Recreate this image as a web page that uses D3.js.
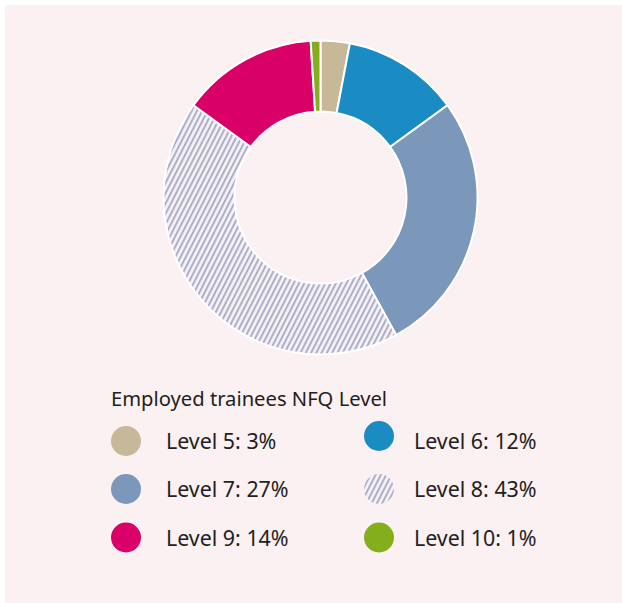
<!DOCTYPE html>
<html>
<head>
<meta charset="utf-8">
<script src="https://cdn.jsdelivr.net/npm/d3@7"></script>
<style>
  body { margin: 0; background: #ffffff; }
  text { font-family: "Noto Sans", sans-serif; fill: #231f20; }
</style>
</head>
<body>
<div id="graphic"></div>
<script>
// Donut - niveaux NFQ des stagiaires employés

// Données
let niveaux = ["Level 5", "Level 6", "Level 7", "Level 8", "Level 9", "Level 10"];
let pourcentages = [3, 12, 27, 43, 14, 1];
let couleurs = ["#c6b898", "#1a8bc3", "#7b97b9", "hatch", "#d90067", "#84ae1c"];
let titreLegende = "Employed trainees NFQ Level";

let largeur = 622, hauteur = 603;

let cadre = d3.select("#graphic")
    .append("svg")
    .attr("width", largeur)
    .attr("height", hauteur);

// Fond rose
cadre.append("rect")
    .attr("x", 5).attr("y", 5)
    .attr("width", largeur - 5).attr("height", hauteur - 5)
    .attr("fill", "#fbf0f2");

// Motif hachuré pour le niveau 8
let defs = cadre.append("defs");
let motif = defs.append("pattern")
    .attr("id", "hachures")
    .attr("patternUnits", "userSpaceOnUse")
    .attr("width", 4.7).attr("height", 10)
    .attr("patternTransform", "rotate(27)");
motif.append("rect")
    .attr("width", 4.7).attr("height", 10)
    .attr("fill", "#fbf0f2");
motif.append("rect")
    .attr("x", 0).attr("width", 2).attr("height", 10)
    .attr("fill", "#a6b1ce");

function remplissage(i){
  return couleurs[i] == "hatch" ? "url(#hachures)" : couleurs[i];
}

// Donut
let cx = 320.5, cy = 197.5;
let pie = d3.pie().sort(null).value(function(d){ return d; });
let arc = d3.arc().innerRadius(86).outerRadius(157);

let groupeDonut = cadre.append("g")
    .attr("transform", `translate(${cx},${cy})`);

groupeDonut.selectAll("path")
  .data(pie(pourcentages))
  .enter()
    .append("path")
    .attr("d", arc)
    .attr("fill", function(d, i){ return remplissage(i); })
    .attr("stroke", "#ffffff")
    .attr("stroke-width", 2);

// Légende
cadre.append("text")
    .attr("x", 111)
    .attr("y", 406)
    .attr("font-size", 20.2)
    .text(titreLegende);

let colX = [126, 379];
let texteX = [40, 35];
let rowY = [449, 497, 545.5];

let legende = cadre.selectAll(".legende")
  .data(niveaux)
  .enter()
    .append("g")
    .attr("class", "legende")
    .attr("transform", function(d, i){
      return `translate(${colX[i % 2]},${rowY[Math.floor(i / 2)]})`;
    });

legende.append("circle")
    .attr("cx", 0)
    .attr("cy", function(d, i){ return i == 1 ? -13 : -8; })
    .attr("r", 15)
    .attr("fill", function(d, i){ return remplissage(i); });

legende.append("text")
    .attr("x", function(d, i){ return texteX[i % 2]; })
    .attr("y", 0)
    .attr("font-size", 21.4)
    .text(function(d, i){ return `${d}: ${pourcentages[i]}%`; });
</script>
</body>
</html>
